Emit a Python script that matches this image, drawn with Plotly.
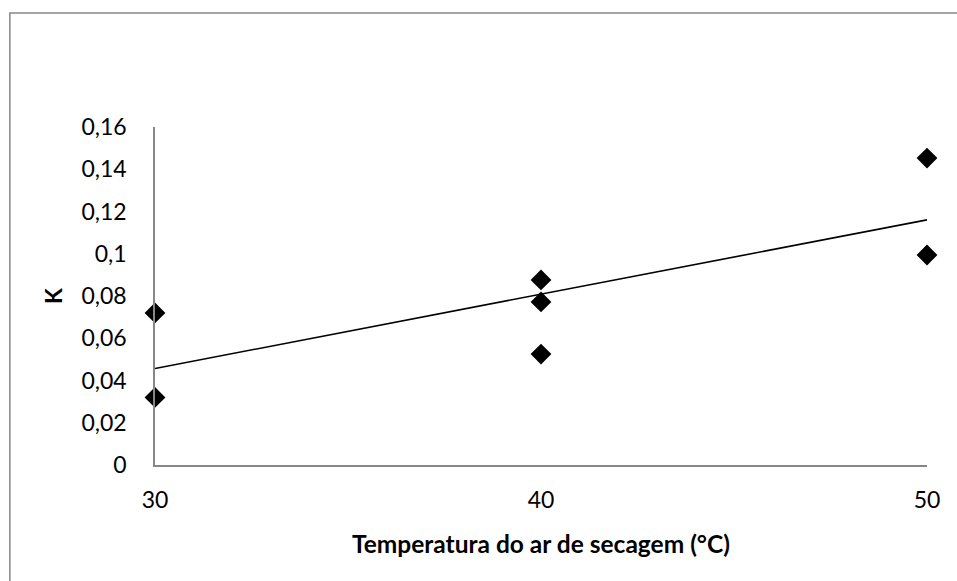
import numpy as np
import plotly.graph_objects as go

temperatura = [30, 30, 40, 40, 40, 50, 50]
k_values = [0.072, 0.032, 0.0876, 0.0772, 0.0525, 0.1453, 0.0994]
y_ticks = [0, 0.02, 0.04, 0.06, 0.08, 0.10, 0.12, 0.14, 0.16]
y_tick_labels = ["0", "0,02", "0,04", "0,06", "0,08", "0,1", "0,12", "0,14", "0,16"]
x_ticks = [30, 40, 50]
x_tick_labels = ["30", "40", "50"]

slope, intercept = np.polyfit(temperatura, k_values, 1)
trend_x = [min(temperatura), max(temperatura)]
trend_y = [slope * x + intercept for x in trend_x]

FONT = "Lato"

fig = go.Figure()
fig.add_trace(go.Scatter(x=trend_x, y=trend_y, mode="lines",
                         line=dict(color="black", width=1.6), showlegend=False,
                         cliponaxis=False))
fig.add_trace(go.Scatter(x=temperatura, y=k_values, mode="markers",
                         marker=dict(symbol="diamond", size=16, color="black"),
                         showlegend=False, cliponaxis=False))

fig.update_layout(
    width=957, height=581,
    margin=dict(l=155, r=30, t=127, b=116),
    paper_bgcolor="white", plot_bgcolor="white",
    font=dict(family=FONT, size=23, color="black"),
    xaxis=dict(range=[30, 50], tickvals=x_ticks, ticktext=x_tick_labels,
               showgrid=False, zeroline=False, showline=True,
               linecolor="#868686", linewidth=1.5, ticks="",
               ticklabelstandoff=14,
               title=dict(text="<b>Temperatura do ar de secagem (°C)</b>",
                          font=dict(size=24.5), standoff=24)),
    yaxis=dict(range=[0, 0.16], tickvals=y_ticks, ticktext=y_tick_labels,
               showgrid=False, zeroline=False, showline=True,
               linecolor="#868686", linewidth=1.5, ticks="",
               ticklabelstandoff=22,
               title=dict(text="<b>K</b>", font=dict(size=23), standoff=12)),
    shapes=[dict(type="rect", xref="paper", yref="paper",
                 x0=-0.188, x1=1.1, y0=-0.9, y1=1.337,
                 line=dict(color="#868686", width=1.5), layer="below")],
)

fig.write_html("out.html")
